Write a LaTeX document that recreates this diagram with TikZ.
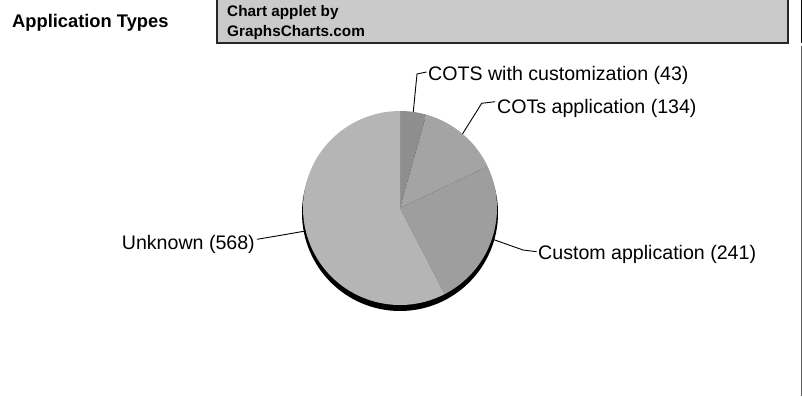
\documentclass[tikz,border=0pt]{standalone}
\usepackage{fontspec}
\setmainfont{Liberation Sans}
\usetikzlibrary{calc}
\definecolor{cUnknown}{HTML}{B5B5B5}
\definecolor{cCustom}{HTML}{9E9E9E}
\definecolor{cCotsApp}{HTML}{A4A4A4}
\definecolor{cCotsCust}{HTML}{8E8E8E}
\definecolor{cBox}{HTML}{CACACA}
\tikzset{
  lbl/.style={inner sep=0pt, font=\fontsize{19.6}{22}\selectfont},
  conn/.style={draw=black, line width=0.9pt},
  boxtxt/.style={inner sep=0pt, anchor=base west, font=\bfseries\fontsize{15.3}{18}\selectfont},
}
\begin{document}
\begin{tikzpicture}[x=1pt,y=1pt]
\useasboundingbox (0,0) rectangle (802,396);
% title
\node[inner sep=0pt, anchor=base west, font=\bfseries\fontsize{18.3}{21}\selectfont] (title) at (12,368) {Application Types};
% applet box
\draw[fill=cBox, draw=black!85, line width=1.2pt] (217,353) rectangle (788,400);
\node[boxtxt] (box1) at (227,379) {Chart applet by};
\node[boxtxt] (box2) at (227,359.5) {GraphsCharts.com};
% right border line
\draw[black, line width=1pt] (801,396) -- (801,353);
\draw[black!65, line width=1pt] (801,350) -- (801,0);
% pie
\coordinate (C) at (400,188);
\fill[black] (400,183) circle[radius=98];
\fill[cCotsCust] (C) -- ++(90:97) arc[start angle=90, end angle=74.30, radius=97] -- cycle;
\fill[cCotsApp] (C) -- ++(74.30:97) arc[start angle=74.30, end angle=25.37, radius=97] -- cycle;
\fill[cCustom] (C) -- ++(25.37:97) arc[start angle=25.37, end angle=-62.62, radius=97] -- cycle;
\fill[cUnknown] (C) -- ++(-62.62:97) arc[start angle=-62.62, end angle=-270, radius=97] -- cycle;
% label anchors on pie
\coordinate (p1) at ($(C)+(82.15:97)$);
\coordinate (p2) at ($(C)+(49.85:97)$);
\coordinate (p3) at ($(C)+(-18.63:97)$);
\coordinate (p4) at ($(C)+(193.69:97)$);
% labels
\node[lbl, anchor=base west] (l1) at (428,315) {COTS with customization (43)};
\node[lbl, anchor=base west] (l2) at (497,282) {COTs application (134)};
\node[lbl, anchor=base west] (l3) at (538,136) {Custom application (241)};
\node[lbl, anchor=base east] (l4) at (255,146) {Unknown (568)};
% bends and ends
\coordinate (b1) at (417,322);
\coordinate (e1) at (426.5,324);
\coordinate (b2) at (481.7,292.7);
\coordinate (e2) at (495,294.3);
\coordinate (b3) at (523,146);
\coordinate (e3) at (536.5,144.3);
\coordinate (b4) at (276.7,160);
\coordinate (e4) at (257,156.7);
\draw[conn] (p1) -- (b1) -- (e1);
\draw[conn] (p2) -- (b2) -- (e2);
\draw[conn] (p3) -- (b3) -- (e3);
\draw[conn] (p4) -- (b4) -- (e4);
\end{tikzpicture}
\end{document}
